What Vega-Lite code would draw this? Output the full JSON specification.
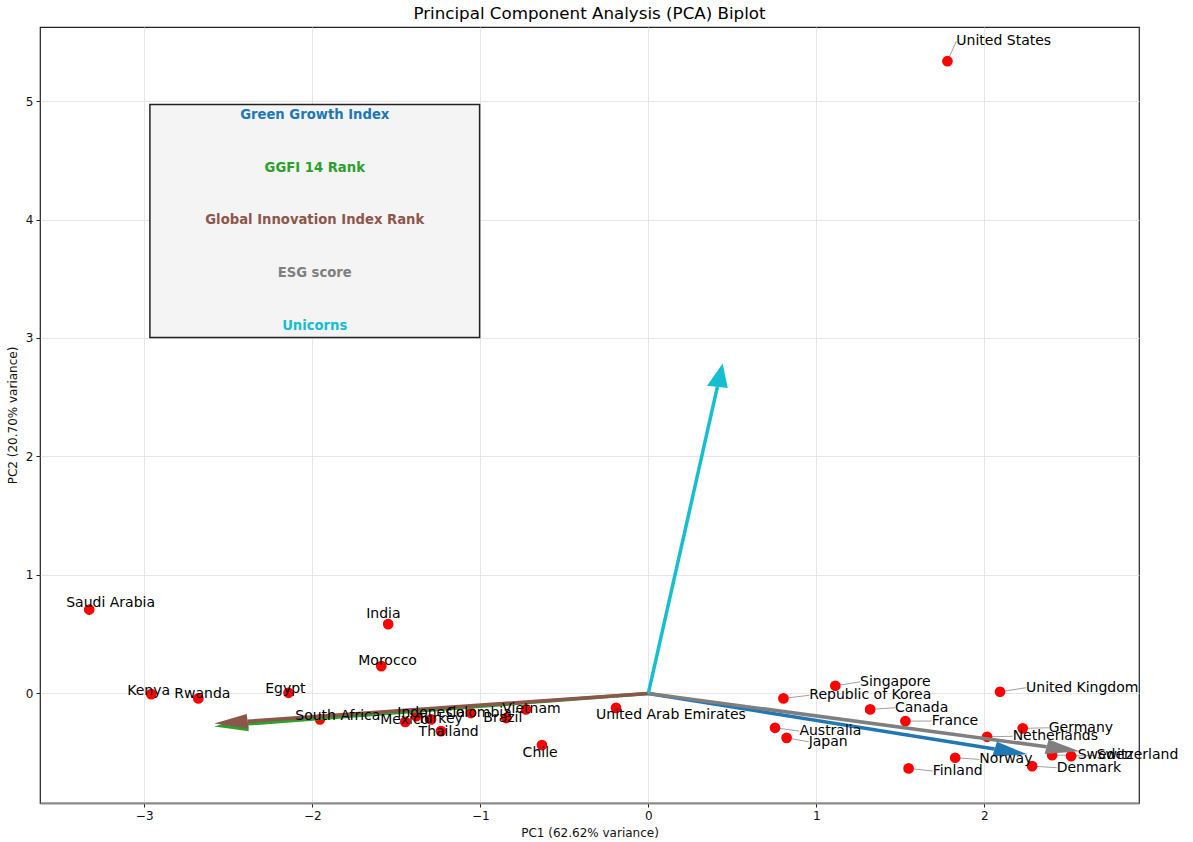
{
  "$schema": "https://vega.github.io/schema/vega-lite/v6.json",
  "width": 1099,
  "height": 776,
  "autosize": {"type": "none"},
  "padding": {"left": 40, "top": 27, "right": 54, "bottom": 39},
  "background": "white",
  "title": {
    "text": "Principal Component Analysis (PCA) Biplot",
    "font": "DejaVu Sans",
    "fontSize": 16.7,
    "fontWeight": "normal",
    "color": "#000000",
    "anchor": "middle",
    "offset": 4
  },
  "config": {
    "view": {"stroke": "#222222", "strokeWidth": 1.2},
    "axis": {
      "labelFont": "DejaVu Sans",
      "labelFontSize": 12,
      "labelColor": "#111111",
      "titleFont": "DejaVu Sans",
      "titleFontSize": 12,
      "titleFontWeight": "normal",
      "titleColor": "#111111",
      "tickColor": "#222222",
      "tickSize": 4,
      "labelPadding": 3,
      "gridColor": "#e3e3e3",
      "gridWidth": 0.9,
      "domain": false
    }
  },
  "datasets": {
    "countries": [
      {"country": "United States", "x": 1.780, "y": 5.336, "lx": 1.833, "ly": 5.505},
      {"country": "Saudi Arabia", "x": -3.327, "y": 0.708, "lx": -3.464, "ly": 0.762},
      {"country": "India", "x": -1.548, "y": 0.585, "lx": -1.679, "ly": 0.670},
      {"country": "Morocco", "x": -1.589, "y": 0.230, "lx": -1.726, "ly": 0.273},
      {"country": "Kenya", "x": -2.958, "y": -0.006, "lx": -3.101, "ly": 0.020},
      {"country": "Rwanda", "x": -2.678, "y": -0.042, "lx": -2.821, "ly": -0.005},
      {"country": "Egypt", "x": -2.141, "y": 0.005, "lx": -2.280, "ly": 0.037},
      {"country": "South Africa", "x": -1.954, "y": -0.219, "lx": -2.101, "ly": -0.187},
      {"country": "Mexico", "x": -1.446, "y": -0.240, "lx": -1.595, "ly": -0.225},
      {"country": "Indonesia", "x": -1.381, "y": -0.192, "lx": -1.494, "ly": -0.163},
      {"country": "Turkey", "x": -1.293, "y": -0.219, "lx": -1.375, "ly": -0.216},
      {"country": "Thailand", "x": -1.234, "y": -0.318, "lx": -1.367, "ly": -0.326},
      {"country": "Colombia", "x": -1.055, "y": -0.166, "lx": -1.204, "ly": -0.163},
      {"country": "Brazil", "x": -0.845, "y": -0.208, "lx": -0.982, "ly": -0.205},
      {"country": "Vietnam", "x": -0.728, "y": -0.135, "lx": -0.869, "ly": -0.130},
      {"country": "Chile", "x": -0.633, "y": -0.436, "lx": -0.748, "ly": -0.501},
      {"country": "United Arab Emirates", "x": -0.192, "y": -0.122, "lx": -0.311, "ly": -0.183},
      {"country": "Republic of Korea", "x": 0.804, "y": -0.042, "lx": 0.958, "ly": -0.016},
      {"country": "Singapore", "x": 1.113, "y": 0.064, "lx": 1.260, "ly": 0.098},
      {"country": "Australia", "x": 0.754, "y": -0.290, "lx": 0.899, "ly": -0.318},
      {"country": "Japan", "x": 0.823, "y": -0.375, "lx": 0.954, "ly": -0.408},
      {"country": "Canada", "x": 1.320, "y": -0.135, "lx": 1.468, "ly": -0.121},
      {"country": "France", "x": 1.530, "y": -0.234, "lx": 1.686, "ly": -0.233},
      {"country": "Finland", "x": 1.549, "y": -0.633, "lx": 1.692, "ly": -0.655},
      {"country": "Norway", "x": 1.826, "y": -0.543, "lx": 1.970, "ly": -0.557},
      {"country": "United Kingdom", "x": 2.093, "y": 0.014, "lx": 2.248, "ly": 0.048},
      {"country": "Netherlands", "x": 2.016, "y": -0.366, "lx": 2.168, "ly": -0.362},
      {"country": "Germany", "x": 2.228, "y": -0.295, "lx": 2.383, "ly": -0.290},
      {"country": "Denmark", "x": 2.284, "y": -0.614, "lx": 2.430, "ly": -0.627},
      {"country": "Sweden", "x": 2.403, "y": -0.521, "lx": 2.555, "ly": -0.523},
      {"country": "Switzerland", "x": 2.516, "y": -0.529, "lx": 2.668, "ly": -0.523}
    ],
    "loadings": [
      {"feature": "Green Growth Index", "x": 2.061, "y": -0.470},
      {"feature": "GGFI 14 Rank", "x": -2.384, "y": -0.257},
      {"feature": "Global Innovation Index Rank", "x": -2.384, "y": -0.235},
      {"feature": "ESG score", "x": 2.37, "y": -0.45},
      {"feature": "Unicorns", "x": 0.411, "y": 2.587}
    ]
  },
  "encoding": {
    "x": {
      "type": "quantitative",
      "scale": {"domain": [-3.62, 2.92], "nice": false, "zero": false},
      "axis": {"title": "PC1 (62.62% variance)", "values": [-3, -2, -1, 0, 1, 2], "titlePadding": 6, "grid": true, "domain": true, "domainColor": "#8a8a8a", "domainWidth": 2}
    },
    "y": {
      "type": "quantitative",
      "scale": {"domain": [-0.925, 5.625], "nice": false, "zero": false},
      "axis": {"title": "PC2 (20.70% variance)", "values": [0, 1, 2, 3, 4, 5], "titlePadding": 6, "grid": true}
    }
  },
  "layer": [
    {
      "data": {"name": "countries"},
      "transform": [{"filter": "datum.lx - datum.x > 0.04"}],
      "mark": {"type": "rule", "color": "#888888", "strokeWidth": 0.8},
      "encoding": {
        "x": {"field": "x", "type": "quantitative"},
        "y": {"field": "y", "type": "quantitative"},
        "x2": {"field": "lx"},
        "y2": {"field": "ly"}
      }
    },
    {
      "data": {"name": "countries"},
      "mark": {"type": "circle", "color": "#ff0000", "size": 115, "opacity": 1},
      "encoding": {
        "x": {"field": "x", "type": "quantitative"},
        "y": {"field": "y", "type": "quantitative"}
      }
    },
    {
      "data": {"name": "loadings"},
      "mark": {"type": "rule", "strokeWidth": 3.5, "strokeCap": "butt"},
      "encoding": {
        "x": {"field": "x", "type": "quantitative"},
        "y": {"field": "y", "type": "quantitative"},
        "x2": {"datum": 0},
        "y2": {"datum": 0},
        "color": {
          "field": "feature",
          "type": "nominal",
          "scale": {
            "domain": ["Green Growth Index", "GGFI 14 Rank", "Global Innovation Index Rank", "ESG score", "Unicorns"],
            "range": ["#1f77b4", "#2ca02c", "#8c564b", "#7f7f7f", "#17becf"]
          },
          "legend": null
        }
      }
    },
    {
      "data": {"name": "loadings"},
      "mark": {
        "type": "point",
        "filled": true,
        "opacity": 1,
        "size": 4,
        "strokeWidth": 0,
        "shape": {"expr": "'M' + round(100*(-0.0625*datum.y/sqrt(datum.x*datum.x+datum.y*datum.y)*(scale('x',1)-scale('x',0))))/100 + ',' + round(100*(0.0625*datum.x/sqrt(datum.x*datum.x+datum.y*datum.y)*(scale('y',1)-scale('y',0))))/100 + 'L' + round(100*(0.2*datum.x/sqrt(datum.x*datum.x+datum.y*datum.y)*(scale('x',1)-scale('x',0))))/100 + ',' + round(100*(0.2*datum.y/sqrt(datum.x*datum.x+datum.y*datum.y)*(scale('y',1)-scale('y',0))))/100 + 'L' + round(100*(0.0625*datum.y/sqrt(datum.x*datum.x+datum.y*datum.y)*(scale('x',1)-scale('x',0))))/100 + ',' + round(100*(-0.0625*datum.x/sqrt(datum.x*datum.x+datum.y*datum.y)*(scale('y',1)-scale('y',0))))/100 + 'Z'"}
      },
      "encoding": {
        "x": {"field": "x", "type": "quantitative"},
        "y": {"field": "y", "type": "quantitative"},
        "color": {"field": "feature", "type": "nominal", "legend": null}
      }
    },
    {
      "data": {"name": "countries"},
      "mark": {"type": "text", "align": "left", "baseline": "middle", "font": "DejaVu Sans", "fontSize": 14, "color": "#000000"},
      "encoding": {
        "x": {"field": "lx", "type": "quantitative"},
        "y": {"field": "ly", "type": "quantitative"},
        "text": {"field": "country"}
      }
    },
    {
      "data": {"values": [{}]},
      "mark": {"type": "rect", "fill": "#f4f4f4", "stroke": "#222222", "strokeWidth": 1.5},
      "encoding": {
        "x": {"datum": -2.966},
        "x2": {"datum": -1.004},
        "y": {"datum": 3.005},
        "y2": {"datum": 4.97}
      }
    },
    {
      "data": {"values": [{}]},
      "mark": {"type": "text", "align": "center", "baseline": "middle", "font": "DejaVu Sans", "fontSize": 13.2, "fontWeight": "bold"},
      "encoding": {
        "x": {"datum": -1.985},
        "y": {"datum": 4.882},
        "text": {"value": "Green Growth Index"},
        "color": {"datum": "Green Growth Index", "legend": null}
      }
    },
    {
      "data": {"values": [{}]},
      "mark": {"type": "text", "align": "center", "baseline": "middle", "font": "DejaVu Sans", "fontSize": 13.2, "fontWeight": "bold"},
      "encoding": {
        "x": {"datum": -1.985},
        "y": {"datum": 4.437},
        "text": {"value": "GGFI 14 Rank"},
        "color": {"datum": "GGFI 14 Rank", "legend": null}
      }
    },
    {
      "data": {"values": [{}]},
      "mark": {"type": "text", "align": "center", "baseline": "middle", "font": "DejaVu Sans", "fontSize": 13.2, "fontWeight": "bold"},
      "encoding": {
        "x": {"datum": -1.985},
        "y": {"datum": 3.992},
        "text": {"value": "Global Innovation Index Rank"},
        "color": {"datum": "Global Innovation Index Rank", "legend": null}
      }
    },
    {
      "data": {"values": [{}]},
      "mark": {"type": "text", "align": "center", "baseline": "middle", "font": "DejaVu Sans", "fontSize": 13.2, "fontWeight": "bold"},
      "encoding": {
        "x": {"datum": -1.985},
        "y": {"datum": 3.547},
        "text": {"value": "ESG score"},
        "color": {"datum": "ESG score", "legend": null}
      }
    },
    {
      "data": {"values": [{}]},
      "mark": {"type": "text", "align": "center", "baseline": "middle", "font": "DejaVu Sans", "fontSize": 13.2, "fontWeight": "bold"},
      "encoding": {
        "x": {"datum": -1.985},
        "y": {"datum": 3.102},
        "text": {"value": "Unicorns"},
        "color": {"datum": "Unicorns", "legend": null}
      }
    }
  ]
}
